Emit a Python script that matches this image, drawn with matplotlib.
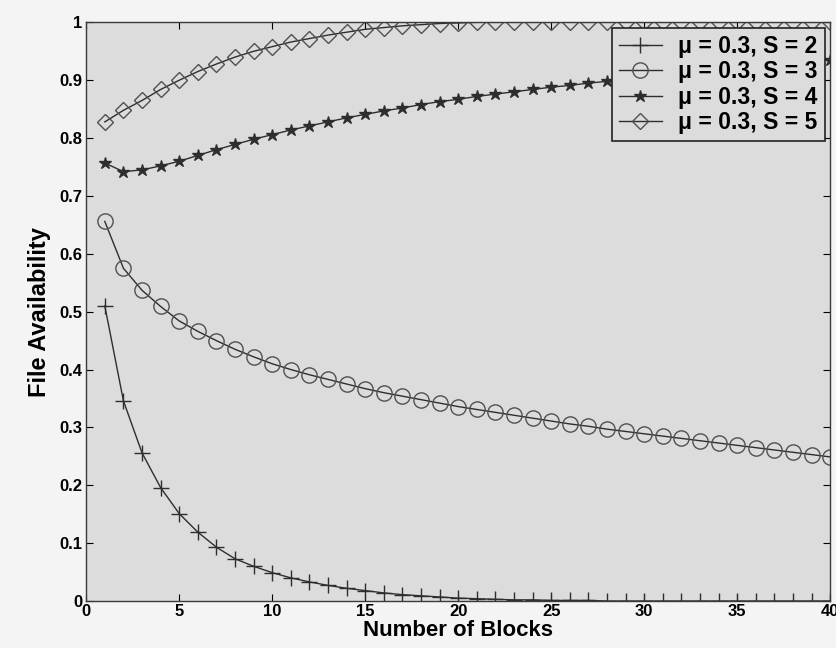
"""File availability vs number of blocks, recreated from a scanned figure."""

import matplotlib
matplotlib.use("Agg")
import matplotlib.pyplot as plt
from matplotlib.ticker import FuncFormatter

# ── Data ─────────────────────────────────────────────────────────────────

blocks = list(range(1, 41))

avail_s2 = [0.510, 0.346, 0.256, 0.196, 0.151, 0.119, 0.093, 0.073, 0.060, 0.049,
            0.040, 0.033, 0.027, 0.022, 0.018, 0.014, 0.011, 0.009, 0.007, 0.005,
            0.004, 0.003, 0.002, 0.002, 0.001, 0.001, 0.001, 0.000, 0.000, 0.000,
            0.000, 0.000, 0.000, 0.000, 0.000, 0.000, 0.000, 0.000, 0.000, 0.000]

avail_s3 = [0.656, 0.575, 0.537, 0.509, 0.484, 0.466, 0.450, 0.435, 0.422, 0.410,
            0.400, 0.391, 0.383, 0.375, 0.367, 0.360, 0.354, 0.348, 0.342, 0.336,
            0.331, 0.326, 0.321, 0.316, 0.311, 0.306, 0.302, 0.297, 0.293, 0.289,
            0.285, 0.281, 0.277, 0.273, 0.269, 0.265, 0.261, 0.257, 0.253, 0.249]

avail_s4 = [0.757, 0.742, 0.745, 0.752, 0.760, 0.770, 0.780, 0.789, 0.798, 0.806,
            0.814, 0.821, 0.828, 0.835, 0.841, 0.847, 0.852, 0.858, 0.863, 0.867,
            0.872, 0.876, 0.880, 0.884, 0.888, 0.891, 0.895, 0.898, 0.901, 0.904,
            0.907, 0.910, 0.913, 0.916, 0.919, 0.922, 0.925, 0.928, 0.931, 0.935]

avail_s5 = [0.828, 0.848, 0.865, 0.884, 0.900, 0.915, 0.928, 0.940, 0.950, 0.958,
            0.966, 0.972, 0.978, 0.983, 0.988, 0.991, 0.994, 0.996, 0.998, 0.999,
            1.000, 1.000, 1.000, 1.000, 1.000, 1.000, 1.000, 1.000, 1.000, 1.000,
            1.000, 1.000, 1.000, 1.000, 1.000, 1.000, 1.000, 1.000, 1.000, 1.000]

labels = ["\u03bc = 0.3, S = 2", "\u03bc = 0.3, S = 3",
          "\u03bc = 0.3, S = 4", "\u03bc = 0.3, S = 5"]

x_ticks = [0, 5, 10, 15, 20, 25, 30, 35, 40]
y_ticks = [0, 0.1, 0.2, 0.3, 0.4, 0.5, 0.6, 0.7, 0.8, 0.9, 1.0]

# ── Style ────────────────────────────────────────────────────────────────

LINE = "#2e2e2e"
FIG_BG = "#f4f4f4"
AX_BG = "#dcdcdc"

plt.rcParams["font.family"] = ["Liberation Sans", "DejaVu Sans"]
plt.rcParams["font.weight"] = "bold"

fig = plt.figure(figsize=(8.37, 6.48), dpi=100, facecolor=FIG_BG)
ax = fig.add_axes([0.103, 0.0725, 0.889, 0.893], facecolor=AX_BG)

common = dict(color=LINE, linewidth=1.0, markerfacecolor="none",
              markeredgecolor=LINE, markeredgewidth=1.0)
ax.plot(blocks, avail_s2, marker="+", markersize=12, label=labels[0], **common)
ax.plot(blocks, avail_s3, marker="o", markersize=11, label=labels[1],
        **{**common, "markeredgecolor": "#505050"})
ax.plot(blocks, avail_s4, marker="*", markersize=9, label=labels[2],
        **{**common, "markerfacecolor": LINE})
ax.plot(blocks, avail_s5, marker="D", markersize=8.5, label=labels[3],
        **{**common, "markeredgecolor": "#505050"})

ax.set_xlim(0, 40)
ax.set_ylim(0, 1)
ax.set_xticks(x_ticks)
ax.set_yticks(y_ticks)
ax.yaxis.set_major_formatter(FuncFormatter(lambda v, _: f"{v:g}"))
ax.tick_params(direction="in", top=True, right=True, length=5,
               labelsize=12, width=0.8, pad=3)
ax.tick_params(axis="x", pad=2)
for lab in ax.get_xticklabels() + ax.get_yticklabels():
    lab.set_fontweight("bold")
for sp in ax.spines.values():
    sp.set_color("#3a3a3a")
    sp.set_linewidth(1.0)

ax.set_xlabel("Number of Blocks", fontsize=16, fontweight="bold", labelpad=1)
ax.set_ylabel("File Availability", fontsize=17, fontweight="bold", labelpad=6)

leg = ax.legend(loc="upper right", fontsize=16.5, frameon=True, fancybox=False,
                borderaxespad=0.25, handlelength=1.9, labelspacing=0.1,
                borderpad=0.3, handletextpad=0.7)
leg.get_frame().set_edgecolor("#222222")
leg.get_frame().set_linewidth(1.2)
leg.get_frame().set_facecolor(AX_BG)
leg.get_frame().set_alpha(1.0)
for t in leg.get_texts():
    t.set_fontweight("bold")

fig.savefig("out.png", dpi=100, facecolor=FIG_BG)
